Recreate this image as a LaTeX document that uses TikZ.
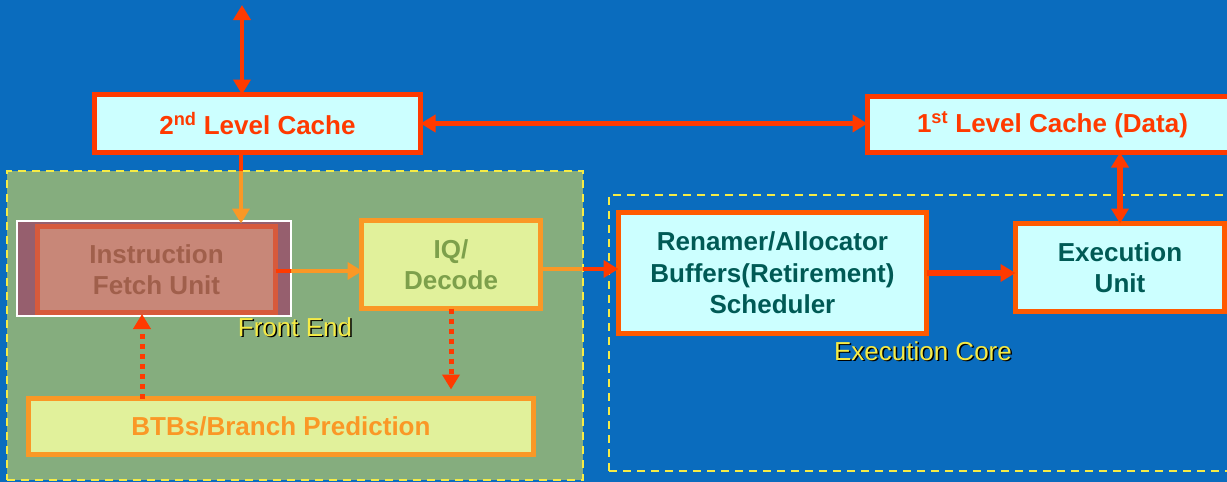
\documentclass[tikz,border=0pt]{standalone}
\usepackage{fontspec}
\setmainfont{Liberation Sans}
\usetikzlibrary{arrows.meta}

\definecolor{slideblue}{RGB}{10,108,190}
\definecolor{frontgreen}{RGB}{133,173,126}
\definecolor{boxcyan}{RGB}{204,255,255}
\definecolor{cachered}{RGB}{255,58,0}
\definecolor{corered}{RGB}{255,90,0}
\definecolor{tealtext}{RGB}{0,90,85}
\definecolor{paleyellow}{RGB}{225,241,155}
\definecolor{fe-orange}{RGB}{250,152,38}
\definecolor{olivetext}{RGB}{125,160,75}
\definecolor{labelyellow}{RGB}{245,235,70}
\definecolor{fetchmauve}{RGB}{150,95,110}
\definecolor{fetchsalmon}{RGB}{200,135,120}
\definecolor{fetchborder}{RGB}{215,90,60}
\definecolor{fetchtext}{RGB}{160,95,75}

\begin{document}
\begin{tikzpicture}[x=1pt,y=-1pt,
  blockbox/.style={draw, line width=5pt, rectangle, inner sep=0pt, outer sep=0pt,
    align=center, font=\bfseries\fontsize{26}{31.5}\selectfont},
  cachebox/.style={blockbox, draw=cachered, fill=boxcyan, text=cachered},
  corebox/.style={blockbox, draw=corered, fill=boxcyan, text=tealtext},
  frontbox/.style={blockbox, draw=fe-orange, fill=paleyellow},
  region/.style={rectangle, inner sep=0pt, outer sep=0pt, draw=labelyellow,
    line width=2pt, dash pattern=on 8pt off 6pt},
  tipA/.tip={Triangle[length=15pt,width=17pt]},
  arr/.style={line width=4.5pt, -tipA},
  darr/.style={line width=4.5pt, tipA-tipA},
  dotarr/.style={line width=5pt, dash pattern=on 5pt off 5pt, -tipA, draw=cachered},
  regionlabel/.style={font=\fontsize{26}{30}\selectfont, inner sep=0pt}
]
\useasboundingbox (0,0) rectangle (1227,482);
\clip (0,0) rectangle (1227,482);
\fill[slideblue] (0,0) rectangle (1227,482);

% regions
\node[region, fill=frontgreen, minimum width=576, minimum height=309] (front) at (295,325.5) {};
\node[region, minimum width=631, minimum height=276] (core) at (924.5,333) {};

% free ends and connector lines
\coordinate (busend) at (242,5);
\coordinate (fetchcol) at (241,0);
\coordinate (row1) at (0,271);
\coordinate (row2) at (0,269);
\coordinate (btbcol) at (142,0);

% caches
\node[cachebox, minimum width=326, minimum height=58] (l2) at (257.5,123.5)
  {2\textsuperscript{nd} Level Cache};
\node[cachebox, minimum width=370, minimum height=56] (l1) at (1052.5,124.5)
  {1\textsuperscript{st} Level Cache (Data)};

% front end blocks
\node[rectangle, draw=white, line width=2pt, fill=fetchmauve, inner sep=0pt, outer sep=0pt,
  minimum width=274, minimum height=95] (fetchhl) at (154,268.5) {};
\node[blockbox, draw=fetchborder, fill=fetchsalmon, text=fetchtext,
  minimum width=238, minimum height=86] (ifu) at (156.5,269.5) {Instruction\\Fetch Unit};
\node[frontbox, text=olivetext, minimum width=179, minimum height=88] (iq) at (451,264.5)
  {IQ/\\Decode};
\node[frontbox, text=fe-orange, minimum width=505, minimum height=56] (btb) at (281,426.5)
  {BTBs/Branch Prediction};

% execution core blocks
\node[corebox, minimum width=308, minimum height=121] (ren) at (772.5,273)
  {Renamer/Allocator\\Buffers(Retirement)\\Scheduler};
\node[corebox, minimum width=209, minimum height=88] (exec) at (1120,267.5)
  {Execution\\Unit};

% connectors
\draw[darr, cachered] (busend) -- (busend |- l2.north);
\draw[darr, cachered] (l2.east) -- (l2.east -| l1.west);
\draw[darr, cachered, line width=5.5pt] (l1.south -| exec.north) -- (exec.north);

\draw[line width=4.5pt, cachered] (fetchcol |- l2.south) -- (fetchcol |- front.north);
\draw[arr, fe-orange] (fetchcol |- front.north) -- ([yshift=3pt]fetchcol |- ifu.north);

\draw[line width=4.5pt, cachered] (ifu.east |- row1) -- (fetchhl.east |- row1);
\draw[arr, fe-orange] (fetchhl.east |- row1) -- ([xshift=1pt]iq.west |- row1);

\draw[line width=4.5pt, fe-orange] (iq.east |- row2) -- (front.east |- row2);
\draw[arr, cachered] (front.east |- row2) -- (ren.west |- row2);

\draw[cachered, line width=6pt, -{Triangle[length=15pt,width=17pt]}] (ren.east) -- (ren.east -| exec.west);

\draw[dotarr] (btbcol |- btb.north) -- ([yshift=2pt]btbcol |- fetchhl.south);
\draw[dotarr, shorten >=9pt] (iq.south) -- (iq.south |- btb.north);

% region labels
\node[regionlabel, text=black] at (296.5,328.5) {Front End};
\node[regionlabel, text=labelyellow] (frontlabel) at (295,327) {Front End};
\node[regionlabel, text=black] at (924.5,352.5) {Execution Core};
\node[regionlabel, text=labelyellow] (corelabel) at (923,351) {Execution Core};
\end{tikzpicture}
\end{document}
